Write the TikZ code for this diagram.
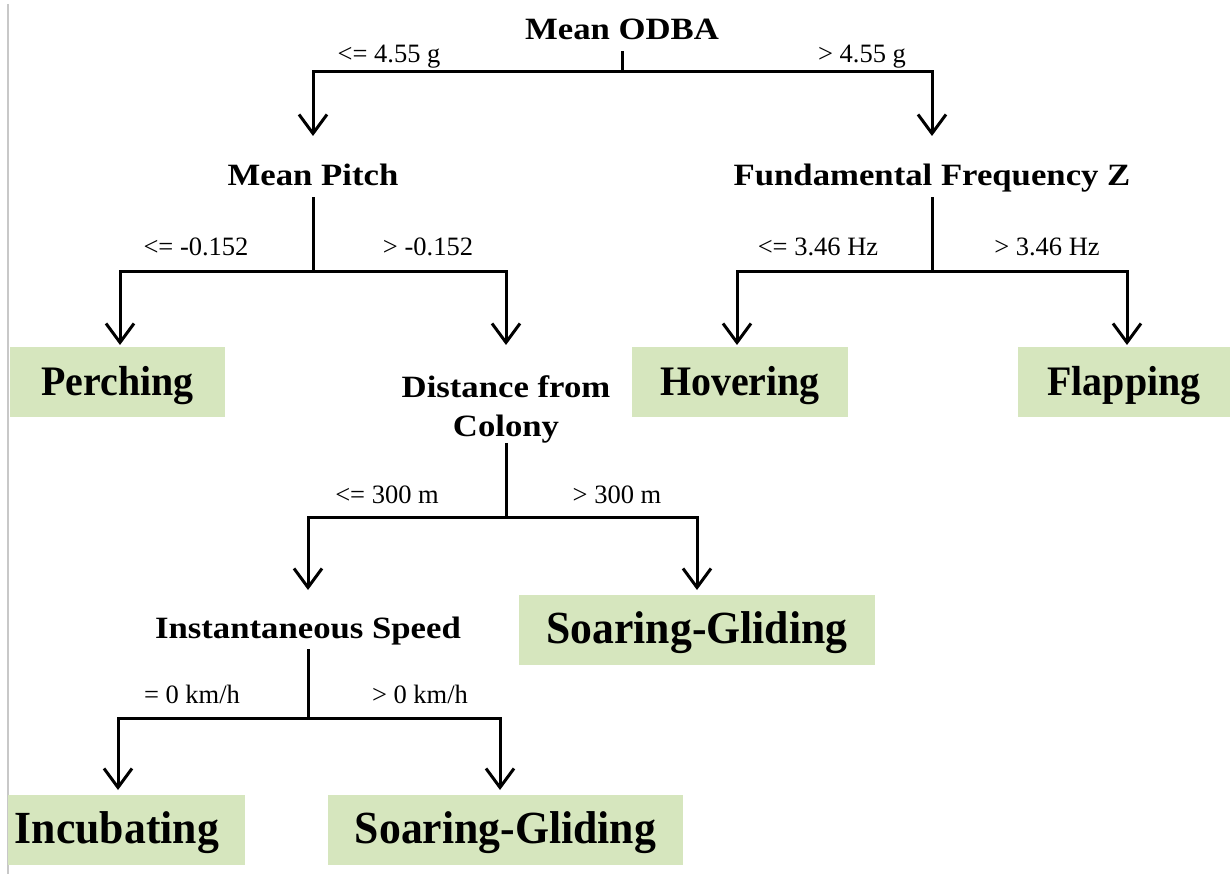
\documentclass[tikz,border=0pt]{standalone}
\usepackage{fontspec}
\setmainfont{Liberation Serif}
\newfontfamily\widefont{Liberation Serif}[FakeStretch=1.12]
\newfontfamily\leaffont{Liberation Serif}[FakeStretch=0.95]
\usetikzlibrary{arrows.meta}
\definecolor{leafgreen}{RGB}{214,230,190}
\definecolor{edgegray}{RGB}{200,200,200}
\begin{document}
\begin{tikzpicture}[x=1pt,y=-1pt,
  conn/.style={line width=3pt, line join=miter},
  arr/.style={conn, -{Straight Barb[length=19pt,width=28pt,line width=3pt]}},
  cond/.style={font=\fontsize{26.5}{30}\selectfont, inner sep=0pt, anchor=base},
  test/.style={font=\widefont\bfseries\fontsize{31}{39}\selectfont, inner sep=3pt, text depth=8pt, anchor=base},
  leaf/.style={fill=leafgreen, font=\leaffont\bfseries\fontsize{42}{48}\selectfont, minimum height=70pt, inner sep=0pt, text height=26pt, text depth=0pt},
  bigleaf/.style={leaf, font=\leaffont\bfseries\fontsize{46}{52}\selectfont}]
\useasboundingbox (0,0) rectangle (1232,874);
\fill[white] (0,0) rectangle (1232,874);
\draw[edgegray, line width=2pt] (8,4) -- (8,874);

% test nodes
\node[test] (odba) at (622,40) {Mean ODBA};
\node[test] (pitch) at (313,186) {Mean Pitch};
\node[test] (ffz) at (932,186) {Fundamental Frequency Z};
\node[font=\widefont\bfseries\fontsize{31}{39}\selectfont, align=center, inner sep=0pt, anchor=south] (dist) at (506,443) {Distance from\\Colony};
\node[test] (speed) at (308,638) {Instantaneous Speed};

% leaves
\node[leaf, minimum width=215pt] (perch) at (117.5,382.5) {Perching};
\node[leaf, minimum width=216pt] (hover) at (740,382.5) {Hovering};
\node[leaf, minimum width=212pt] (flap) at (1124,382.5) {Flapping};
\node[bigleaf, minimum width=356pt] (soar1) at (697,630) {Soaring-Gliding};
\node[bigleaf, minimum width=237pt] (incub) at (126.5,830) {Incubating\hspace*{19pt}};
\node[bigleaf, minimum width=355pt] (soar2) at (505.5,830) {Soaring-Gliding};

% condition labels
\node[cond] (c1) at (389,63) {<= 4.55 g};
\node[cond] (c2) at (862,63) {> 4.55 g};
\node[cond] (c3) at (196,256) {<= -0.152};
\node[cond] (c4) at (428,256) {> -0.152};
\node[cond] (c5) at (818,256) {<= 3.46 Hz};
\node[cond] (c6) at (1047,256) {> 3.46 Hz};
\node[cond] (c7) at (387,503) {<= 300 m};
\node[cond] (c8) at (617,503) {> 300 m};
\node[cond] (c9) at (192,703) {= 0 km/h};
\node[cond] (c10) at (420,703) {> 0 km/h};

% junctions and arrow tips
\coordinate (j1) at (622,72);  \coordinate (t1) at (313,136);  \coordinate (t2) at (932,136);
\coordinate (j2) at (313,272); \coordinate (t3) at (120,345);  \coordinate (t4) at (506,345);
\coordinate (j3) at (932,272); \coordinate (t5) at (737,345);  \coordinate (t6) at (1127,345);
\coordinate (j4) at (506,517); \coordinate (t7) at (308,590);  \coordinate (t8) at (697,590);
\coordinate (j5) at (308,718); \coordinate (t9) at (118,790);  \coordinate (t10) at (500,790);

\draw[conn] (odba.south) -- (j1);
\draw[arr] (j1) -| (t1);
\draw[arr] (j1) -| (t2);
\draw[conn] (pitch.south) -- (j2);
\draw[arr] (j2) -| (t3);
\draw[arr] (j2) -| (t4);
\draw[conn] (ffz.south) -- (j3);
\draw[arr] (j3) -| (t5);
\draw[arr] (j3) -| (t6);
\draw[conn] (dist.south) -- (j4);
\draw[arr] (j4) -| (t7);
\draw[arr] (j4) -| (t8);
\draw[conn] (speed.south) -- (j5);
\draw[arr] (j5) -| (t9);
\draw[arr] (j5) -| (t10);
\end{tikzpicture}
\end{document}
